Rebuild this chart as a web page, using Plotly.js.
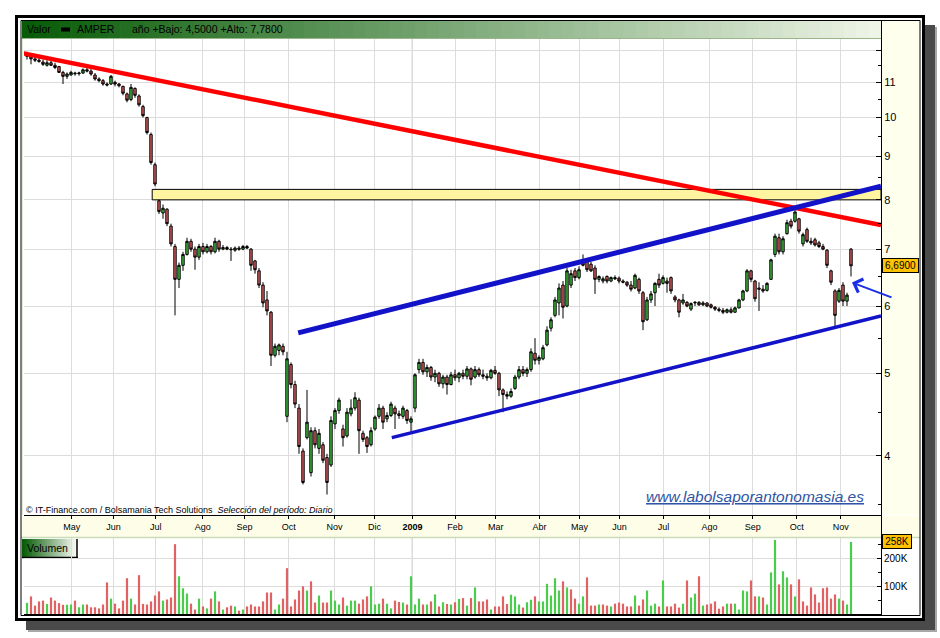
<!DOCTYPE html>
<html>
<head>
<meta charset="utf-8">
<script src="https://cdn.plot.ly/plotly-3.0.1.min.js"></script>
<style>
html,body{margin:0;padding:0;background:#ffffff;}
#chart{width:940px;height:638px;}
</style>
</head>
<body>
<div id="chart"></div>
<script>
// ---------- DATA (one candle per two sessions, Apr 2008 - Nov 2009, AMPER) ----------
const openP = [
11.88,11.80,11.72,11.68,11.62,11.52,11.60,11.52,11.48,11.30,
11.18,11.22,11.28,11.26,11.28,11.38,11.34,11.22,11.10,11.05,
10.95,10.95,11.00,10.95,10.88,10.66,10.50,10.82,10.60,10.30,
10.00,9.55,8.80,7.98,7.72,7.80,7.45,7.05,6.45,6.70,
6.90,7.15,7.00,6.85,7.05,6.95,7.05,6.95,7.15,7.00,
7.03,7.00,6.98,7.02,7.00,7.05,7.00,6.78,6.60,6.35,
6.10,5.90,5.25,5.32,5.38,4.45,5.12,4.85,4.55,4.05,
4.20,3.82,4.28,4.08,4.12,3.98,3.90,4.36,4.52,4.30,
4.22,4.48,4.55,4.65,4.25,4.20,4.12,4.30,4.45,4.55,
4.42,4.46,4.55,4.48,4.45,4.52,4.38,4.55,5.05,5.15,
5.02,5.08,4.95,5.00,4.86,4.95,4.85,4.98,4.94,5.00,
4.96,5.06,4.95,5.05,4.98,4.96,4.94,5.04,5.00,4.78,
4.72,4.70,4.80,4.95,5.05,5.00,5.05,5.28,5.18,5.20,
5.40,5.65,5.85,6.05,6.35,6.00,6.35,6.60,6.48,6.75,
6.78,6.72,6.65,6.45,6.42,6.50,6.42,6.48,6.47,6.42,
6.40,6.35,6.30,6.45,6.22,5.78,6.10,6.22,6.45,6.38,
6.42,6.48,6.15,6.10,6.05,6.06,5.95,6.05,6.06,6.02,
6.05,6.02,5.98,5.95,5.93,5.90,5.94,5.90,5.97,6.10,
6.25,6.60,6.42,6.30,6.28,6.26,6.45,6.90,7.22,6.95,
7.30,7.55,7.55,7.60,7.10,7.38,7.15,7.18,7.12,7.05,
6.98,6.60,6.25,6.08,6.35,6.08,7.00];
const highP = [
11.95,11.85,11.80,11.75,11.70,11.68,11.70,11.60,11.50,11.35,
11.30,11.35,11.32,11.32,11.42,11.45,11.40,11.28,11.15,11.10,
11.00,11.22,11.05,10.98,10.90,10.70,10.95,10.85,10.65,10.35,
10.02,9.60,8.85,8.02,7.90,7.82,7.50,7.10,6.75,6.95,
7.22,7.20,7.05,7.10,7.12,7.10,7.08,7.22,7.18,7.08,
7.06,7.04,7.05,7.06,7.08,7.08,7.02,6.80,6.65,6.40,
6.25,5.92,5.42,5.42,5.42,5.30,5.15,4.90,4.60,4.08,
4.78,4.32,4.32,4.30,4.15,4.02,4.45,4.55,4.68,4.35,
4.55,4.66,4.75,4.68,4.28,4.22,4.32,4.46,4.60,4.58,
4.50,4.63,4.58,4.52,4.58,4.54,4.45,5.00,5.20,5.20,
5.12,5.10,5.05,5.02,4.98,4.98,5.02,5.05,5.02,5.05,
5.10,5.08,5.10,5.08,5.05,5.00,5.06,5.10,5.02,4.80,
4.76,4.80,4.98,5.10,5.10,5.08,5.35,5.50,5.25,5.40,
5.68,5.82,6.15,6.38,6.42,6.65,6.62,6.65,6.68,6.90,
6.82,6.76,6.70,6.52,6.50,6.52,6.50,6.52,6.50,6.45,
6.42,6.42,6.55,6.48,6.25,6.15,6.25,6.40,6.55,6.52,
6.48,6.50,6.18,6.12,6.20,6.08,6.06,6.08,6.08,6.08,
6.06,6.04,6.00,5.98,5.97,5.96,5.98,5.99,6.12,6.27,
6.63,6.62,6.44,6.40,6.35,6.40,6.82,7.30,7.30,7.25,
7.58,7.60,7.78,7.62,7.32,7.42,7.22,7.22,7.16,7.10,
7.00,6.62,6.28,6.30,6.40,6.22,7.02];
const lowP = [
11.70,11.55,11.62,11.60,11.50,11.48,11.50,11.40,11.28,10.95,
11.10,11.20,11.20,11.20,11.25,11.30,11.20,11.05,11.00,10.90,
10.88,10.92,10.88,10.85,10.62,10.42,10.45,10.55,10.30,10.00,
9.55,8.80,8.30,7.70,7.60,7.45,7.05,5.85,6.30,6.60,
6.88,6.95,6.62,6.80,6.90,6.92,6.90,6.92,6.95,6.98,
6.98,6.78,6.95,6.97,6.98,7.00,6.60,6.55,6.30,5.98,
5.85,5.10,5.22,5.25,5.25,4.38,4.80,4.55,4.02,3.70,
4.18,3.78,4.08,4.02,3.92,3.60,3.88,4.30,4.48,4.10,
4.20,4.45,4.52,4.02,4.15,4.03,4.10,4.28,4.42,4.30,
4.38,4.44,4.30,4.42,4.42,4.36,4.27,4.50,5.00,4.98,
4.95,4.90,4.88,4.82,4.80,4.72,4.84,4.90,4.88,4.92,
4.92,4.84,4.93,4.95,4.92,4.90,4.92,4.98,4.70,4.50,
4.66,4.68,4.78,4.92,4.96,4.95,5.02,5.12,5.12,5.18,
5.38,5.60,5.82,5.85,5.80,5.98,6.30,6.42,6.45,6.68,
6.58,6.58,6.20,6.40,6.38,6.38,6.40,6.44,6.38,6.38,
6.32,6.24,6.28,6.20,5.62,5.76,6.05,6.00,6.30,6.36,
6.22,6.20,6.06,5.82,6.02,5.98,5.92,6.00,6.00,6.00,
5.98,5.96,5.92,5.90,5.87,5.88,5.88,5.89,5.96,6.08,
6.23,6.40,6.07,5.92,6.22,6.24,6.44,6.85,6.90,6.90,
7.28,7.40,7.52,7.30,7.05,7.12,7.08,7.05,7.02,6.98,
6.65,6.35,5.68,6.05,6.00,6.00,6.50];
const closeP = [
11.80,11.72,11.68,11.64,11.55,11.60,11.52,11.45,11.30,11.18,
11.25,11.30,11.26,11.28,11.38,11.34,11.25,11.10,11.05,10.95,
10.92,11.18,10.95,10.90,10.68,10.48,10.85,10.62,10.35,10.05,
9.60,8.85,8.35,7.75,7.82,7.50,7.10,6.45,6.70,6.90,
7.15,7.00,6.85,7.05,6.95,7.05,6.95,7.15,7.00,7.03,
7.00,6.99,7.02,7.00,7.05,7.02,6.70,6.62,6.35,6.05,
5.92,5.25,5.38,5.40,5.30,5.20,4.85,4.60,4.10,3.72,
4.38,4.28,4.12,4.25,3.95,3.72,4.40,4.52,4.65,4.20,
4.50,4.55,4.68,4.28,4.18,4.10,4.28,4.44,4.55,4.38,
4.46,4.60,4.48,4.46,4.55,4.40,4.42,4.98,5.15,5.02,
5.08,4.95,5.00,4.86,4.95,4.85,4.98,4.94,5.00,4.96,
5.06,4.92,5.05,4.98,4.96,4.94,5.04,5.00,4.78,4.72,
4.70,4.76,4.95,5.05,5.00,5.05,5.30,5.18,5.22,5.36,
5.62,5.78,6.10,6.30,5.98,6.60,6.55,6.48,6.62,6.70,
6.62,6.60,6.45,6.50,6.46,6.42,6.48,6.46,6.42,6.40,
6.35,6.28,6.52,6.25,5.75,6.10,6.20,6.38,6.35,6.48,
6.38,6.25,6.10,5.90,6.10,6.00,6.04,6.06,6.02,6.05,
6.00,5.98,5.95,5.93,5.90,5.94,5.90,5.97,6.10,6.25,
6.60,6.45,6.12,6.28,6.25,6.38,6.80,7.25,6.95,7.20,
7.52,7.45,7.74,7.35,7.28,7.15,7.12,7.08,7.05,7.00,
6.70,6.40,5.85,6.26,6.08,6.18,6.69];
// volume, thousands of shares
const volumeK = [
40,63,30,45,48,36,59,48,39,33,
33,34,48,24,34,34,24,24,20,34,
113,55,37,20,48,128,55,34,139,36,
34,45,66,81,48,52,59,250,135,92,
73,37,16,55,27,20,55,81,45,16,
24,30,27,12,16,27,34,27,27,45,
77,77,16,34,55,164,27,52,84,99,
84,117,41,66,41,41,84,48,34,59,
30,48,48,37,52,63,99,34,37,55,
37,20,48,43,41,34,135,34,55,34,
34,45,70,27,42,36,34,42,54,57,
30,57,95,45,45,52,16,27,27,63,
36,69,63,34,23,42,51,63,45,45,
108,66,128,84,117,95,88,55,37,63,
131,30,30,34,34,30,27,37,41,37,
27,27,66,30,52,84,30,37,27,120,
27,27,37,23,37,120,59,73,135,30,
34,37,45,19,27,37,37,37,16,84,
81,120,63,63,59,34,149,265,106,153,
131,106,63,124,45,30,95,70,41,92,
95,55,70,55,48,34,258];

// month starts, in session units
const monthTicks  = [22.4,43.2,64.4,87.9,108.7,130.9,153.7,173.7,192.7,214,234.4,256.2,276.2,296.2,318.2,341.2,362.9,384.9,406.9];
const monthLabels = ['May','Jun','Jul','Ago','Sep','Oct','Nov','Dic','<b>2009</b>','Feb','Mar','Abr','May','Jun','Jul','Ago','Sep','Oct','Nov'];
const priceTicks  = [4,5,6,7,8,9,10,11,12];
const priceLabels = ['4','5','6','7','8','9','10','11',''];
const priceMinor  = [3.5,4.5,5.5,6.5,7.5,8.5,9.5,10.5,11.5];

// hand-drawn trend lines / resistance zone (session, price)
const redLineX   = [-2, 427];    const redLineY   = [11.90, 7.47];
const upperBlueX = [135.6, 427]; const upperBlueY = [5.58, 8.30];
const lowerBlueX = [182.4, 427]; const lowerBlueY = [4.20, 5.84];
const zoneX = [62.6, 427];       const zoneY = [8.00, 8.23];

// ---------- LAYOUT HELPERS ----------
const FONT = 'Liberation Sans, Arial, sans-serif';
const PL = 24, PR = 881, PT = 39, PB = 614;
const fx = p => (p - PL) / (PR - PL);
const fy = p => (PB - p) / (PB - PT);
function rectPx(x0, y0, x1, y1, fill, line, layer) {
  return {type:'rect', xref:'paper', yref:'paper', x0:fx(x0), x1:fx(x1), y0:fy(y1), y1:fy(y0),
          fillcolor:fill, line: line || {width:0}, layer: layer || 'below'};
}
function linePx(x0, y0, x1, y1, color, width, layer) {
  return {type:'line', xref:'paper', yref:'paper', x0:fx(x0), x1:fx(x1), y0:fy(y0), y1:fy(y1),
          line:{color:color, width:width}, layer: layer || 'below'};
}
function gradRects(x0, x1, y0, y1, c0, c1, n) {
  const out = [];
  for (let i = 0; i < n; i++) {
    const a = x0 + (x1 - x0) * i / n;
    const b = Math.min(x1, x0 + (x1 - x0) * (i + 1) / n + 0.7);
    const t = i / (n - 1);
    const c = c0.map((v, j) => Math.round(v + (c1[j] - v) * t));
    out.push(rectPx(a, y0, b, y1, 'rgb(' + c.join(',') + ')'));
  }
  return out;
}

const xs = closeP.map((_, i) => i * 2);
const volColors = closeP.map((c, i) => (i === 0 || c >= closeP[i - 1]) ? '#4ccc4c' : '#e06262');
const xRange = [-1.5, 427];

const traces = [
  {type:'scatter', mode:'lines', x:[zoneX[0], zoneX[1], zoneX[1], zoneX[0], zoneX[0]],
   y:[zoneY[0], zoneY[0], zoneY[1], zoneY[1], zoneY[0]], fill:'toself', fillcolor:'#fff5a0',
   line:{color:'#000', width:1}, xaxis:'x', yaxis:'y', hoverinfo:'skip', showlegend:false},
  {type:'candlestick', x:xs, open:openP, high:highP, low:lowP, close:closeP, xaxis:'x', yaxis:'y',
   increasing:{line:{color:'#000', width:1}, fillcolor:'#3fc83f'},
   decreasing:{line:{color:'#000', width:1}, fillcolor:'#e06060'},
   whiskerwidth:0, hoverinfo:'skip', showlegend:false},
  {type:'scatter', mode:'lines', x:redLineX, y:redLineY, line:{color:'#ff0000', width:4.5},
   xaxis:'x', yaxis:'y', hoverinfo:'skip', showlegend:false},
  {type:'scatter', mode:'lines', x:upperBlueX, y:upperBlueY, line:{color:'#1212c8', width:5},
   xaxis:'x', yaxis:'y', hoverinfo:'skip', showlegend:false},
  {type:'scatter', mode:'lines', x:lowerBlueX, y:lowerBlueY, line:{color:'#1212c8', width:3.5},
   xaxis:'x', yaxis:'y', hoverinfo:'skip', showlegend:false},
  {type:'bar', x:xs, y:volumeK, marker:{color:volColors, line:{width:0}}, width:1.1,
   xaxis:'x2', yaxis:'y2', hoverinfo:'skip', showlegend:false}
];

const shapes = [].concat(
  // drop shadow + frame
  [rectPx(925, 25, 935, 630, '#4a4a4a'), rectPx(26, 621, 935, 630, '#4a4a4a'),
   rectPx(935, 27, 937, 632, '#a8a8a8'), rectPx(28, 630, 937, 632, '#a8a8a8')],
  // pale bands
  [rectPx(882, 20, 920, 515, '#ffffee'), rectPx(21, 516, 920, 537, '#fdfde8')],
  // header gradient
  gradRects(22, 881, 21, 38, [8, 92, 8], [238, 244, 230], 70),
  [rectPx(61, 27.5, 70, 31.5, '#000')],
  // Volumen label box
  gradRects(22, 77, 539, 557, [8, 92, 8], [246, 249, 242], 22),
  [linePx(77, 539, 77, 558, '#000', 1.5), linePx(22, 557.5, 78, 557.5, '#000', 1.5)],
  // separators
  [linePx(21, 537.5, 920, 537.5, '#c9dcb8', 1.5), linePx(22.5, 39, 22.5, 515, '#dfe8d0', 1),
   linePx(881.5, 20, 881.5, 39, '#000', 1), linePx(881.5, 515, 881.5, 538, '#000', 1),
   linePx(21, 38.5, 881, 38.5, '#9bb58b', 1)],
  // frame
  [rectPx(16.5, 16.5, 923.5, 619.5, 'rgba(0,0,0,0)', {color:'#000', width:3}),
   rectPx(21, 20.5, 920, 615.5, 'rgba(0,0,0,0)', {color:'#000', width:1})],
  // year separator (darker grid line)
  [{type:'line', xref:'x', yref:'paper', x0:monthTicks[8], x1:monthTicks[8], y0:fy(515), y1:1,
    line:{color:'#a3a3a3', width:1.2}, layer:'between'},
   {type:'line', xref:'x2', yref:'paper', x0:monthTicks[8], x1:monthTicks[8], y0:0, y1:fy(538),
    line:{color:'#a3a3a3', width:1.2}, layer:'between'}]
);

const lastClose = closeP[closeP.length - 1];
const lastVol = volumeK[volumeK.length - 1];
const txt = (x, y, t, size, extra) => Object.assign({xref:'paper', yref:'paper', x:fx(x), y:fy(y),
  xanchor:'left', yanchor:'middle', text:t, showarrow:false, font:{family:FONT, size:size, color:'#000'}}, extra || {});

const annotations = [
  txt(25, 29.5, 'Valor', 10.5),
  txt(75, 29.5, 'AMPER', 10.5),
  txt(130, 29.5, 'año +Bajo: 4,5000 +Alto: 7,7800', 10.5),
  txt(25, 548, 'Volumen', 10.5),
  txt(24, 510, '© IT-Finance.com / Bolsamania Tech Solutions &nbsp;<i>Selección del período: Diario</i>', 9),
  txt(755, 496, '<i><u>www.labolsaporantonomasia.es</u></i>', 15.5,
      {xanchor:'center', font:{family:FONT, size:15.5, color:'#2f55a4'}}),
  {xref:'paper', yref:'y', x:fx(882), y:Math.log10(lastClose), xanchor:'left', yanchor:'middle',
   text:lastClose.toFixed(4).replace('.', ','), showarrow:false, bgcolor:'#ffc200',
   bordercolor:'#000', borderwidth:1, borderpad:1, width:33, align:'center',
   font:{family:FONT, size:10, color:'#000'}},
  {xref:'paper', yref:'y2', x:fx(882), y:lastVol, xanchor:'left', yanchor:'middle',
   text:lastVol + 'K', showarrow:false, bgcolor:'#ffc200',
   bordercolor:'#000', borderwidth:1, borderpad:1, width:26, align:'center',
   font:{family:FONT, size:10, color:'#000'}},
  {xref:'paper', yref:'paper', x:fx(852), y:fy(282.5), ax:41, ay:15.5, text:'', showarrow:true,
   arrowhead:4, arrowsize:1.4, arrowwidth:2, arrowcolor:'#1a2ee6', standoff:0}
];

const layout = {
  width:940, height:638,
  margin:{l:PL, r:940 - PR, t:PT, b:638 - PB, pad:0},
  paper_bgcolor:'#ffffff', plot_bgcolor:'#ffffff',
  showlegend:false, hovermode:false, dragmode:false, boxgap:0.15,
  xaxis:{domain:[0,1], anchor:'y', range:xRange, tickmode:'array', tickvals:monthTicks, ticktext:monthLabels,
         ticks:'outside', ticklen:3, tickcolor:'#000', showgrid:true, gridcolor:'#dcdcdc', gridwidth:1,
         zeroline:false, showline:true, linecolor:'#000', linewidth:1,
         tickfont:{family:FONT, size:9, color:'#000'}, rangeslider:{visible:false}, fixedrange:true},
  yaxis:{domain:[fy(515), 1], anchor:'x', type:'log', side:'right',
         range:[Math.log10(3.406), Math.log10(12.37)], tickmode:'array', tickvals:priceTicks, ticktext:priceLabels,
         ticks:'inside', ticklen:5, tickcolor:'#000', showgrid:true, gridcolor:'#dcdcdc', gridwidth:1,
         zeroline:false, showline:true, linecolor:'#000', linewidth:1,
         minor:{tickmode:'array', tickvals:priceMinor, ticks:'inside', ticklen:3, tickcolor:'#000', showgrid:false},
         tickfont:{family:FONT, size:11, color:'#000'}, fixedrange:true},
  xaxis2:{domain:[0,1], anchor:'y2', range:xRange, tickmode:'array', tickvals:monthTicks,
          showticklabels:false, ticks:'', showgrid:true, gridcolor:'#dcdcdc', gridwidth:1,
          zeroline:false, showline:true, linecolor:'#000', linewidth:1.5, fixedrange:true},
  yaxis2:{domain:[0, fy(538)], anchor:'x2', side:'right', range:[0, 272],
          tickmode:'array', tickvals:[100, 200], ticktext:['100K', '200K'],
          ticks:'inside', ticklen:4, tickcolor:'#000', showgrid:true, gridcolor:'#dcdcdc', gridwidth:1,
          zeroline:false, showline:true, linecolor:'#000', linewidth:1,
          minor:{tickmode:'array', tickvals:[50, 150, 250], ticks:'inside', ticklen:3, tickcolor:'#000', showgrid:false},
          tickfont:{family:FONT, size:10, color:'#000'}, fixedrange:true},
  shapes:shapes,
  annotations:annotations
};

Plotly.newPlot('chart', traces, layout, {staticPlot:true, displayModeBar:false});
</script>
</body>
</html>
